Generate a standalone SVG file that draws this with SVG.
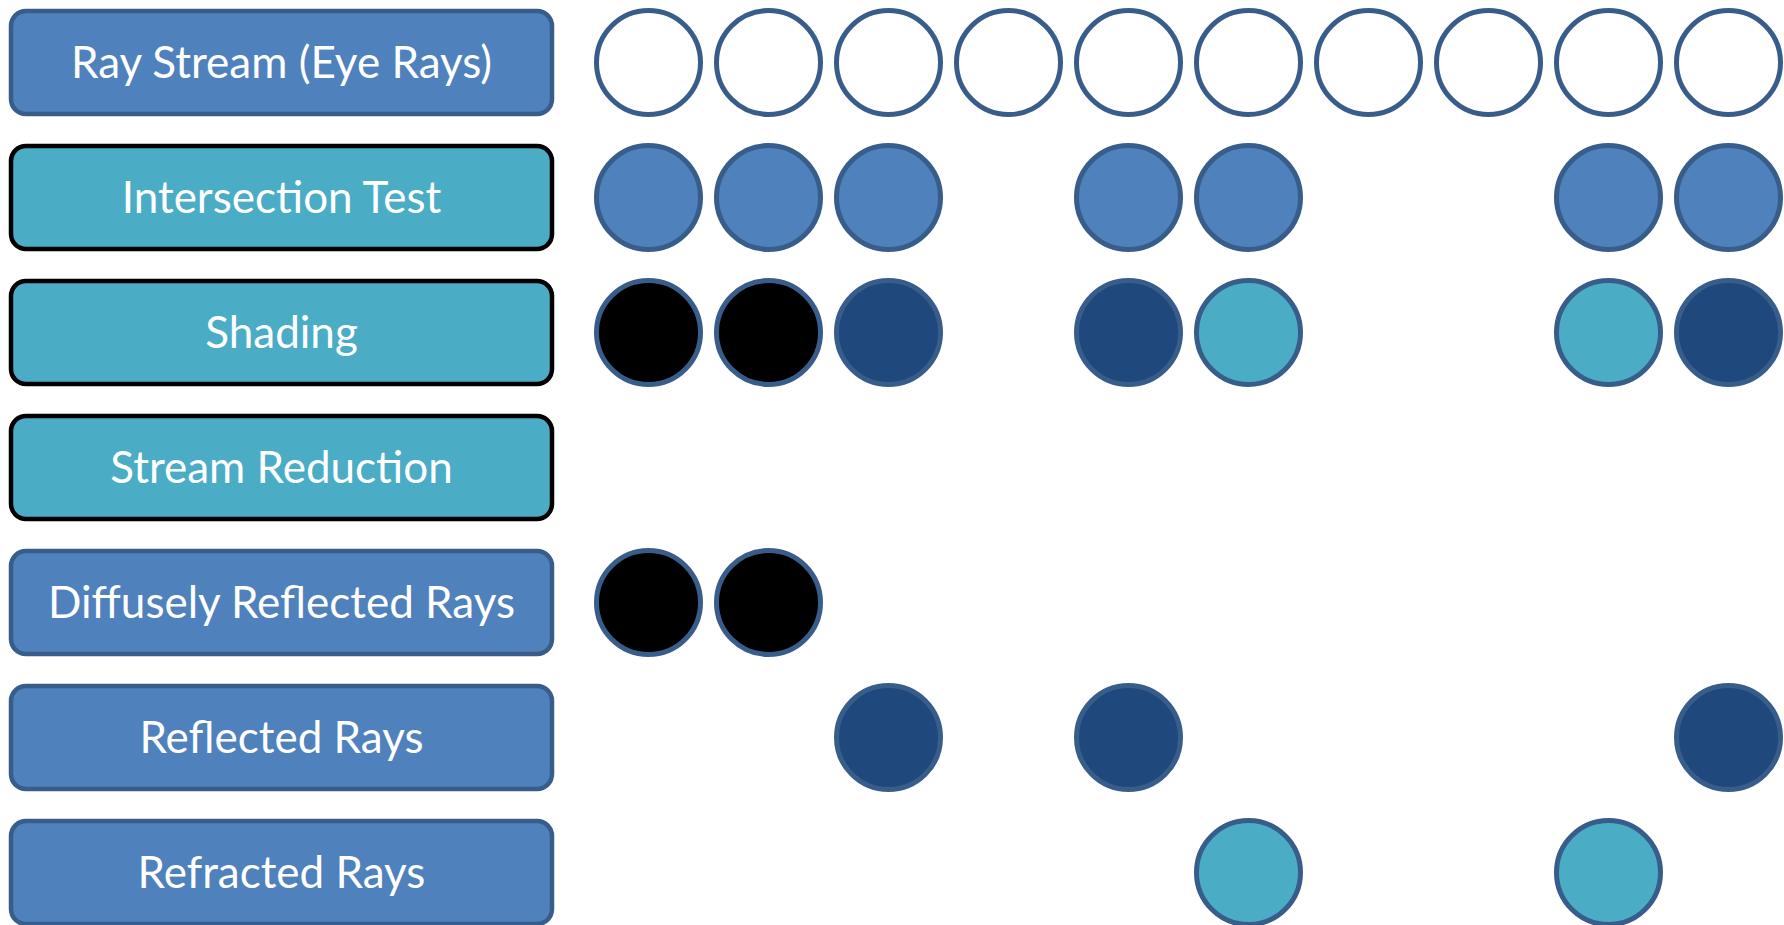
<svg xmlns="http://www.w3.org/2000/svg" width="1784" height="925" viewBox="0 0 1784 925">
<style>
.box{stroke-width:4.5}
.stage{fill:#4F81BD;stroke:#385D8A}
.op{fill:#4BACC6;stroke:#000000}
.lbl{font-family:Lato,"Open Sans","Liberation Sans",sans-serif;font-size:44px;fill:#FFFFFF;text-anchor:middle;dominant-baseline:central}
.c{stroke:#385D8A;stroke-width:5}
.w{fill:#FFFFFF}
.b{fill:#4F81BD}
.k{fill:#000000}
.d{fill:#1F497D}
.t{fill:#4BACC6}
</style>
<rect width="1784" height="925" fill="#FFFFFF"/>
<g id="labels">
<g id="ray-stream"><rect class="box stage" x="11" y="11" width="541" height="103" rx="15"/><text class="lbl" x="281.5" y="60.5">Ray Stream (Eye Rays)</text></g>
<g id="intersection-test"><rect class="box op" x="11" y="146" width="541" height="103" rx="15"/><text class="lbl" x="281.5" y="195.5">Intersection Test</text></g>
<g id="shading"><rect class="box op" x="11" y="281" width="541" height="103" rx="15"/><text class="lbl" x="281.5" y="330.5">Shading</text></g>
<g id="stream-reduction"><rect class="box op" x="11" y="416" width="541" height="103" rx="15"/><text class="lbl" x="281.5" y="465.5">Stream Reduction</text></g>
<g id="diffusely-reflected"><rect class="box stage" x="11" y="551" width="541" height="103" rx="15"/><text class="lbl" x="281.5" y="600.5">Diffusely Reflected Rays</text></g>
<g id="reflected"><rect class="box stage" x="11" y="686" width="541" height="103" rx="15"/><text class="lbl" x="281.5" y="735.5">Reflected Rays</text></g>
<g id="refracted"><rect class="box stage" x="11" y="821" width="541" height="103" rx="15"/><text class="lbl" x="281.5" y="870.5">Refracted Rays</text></g>
</g>
<g id="row-eye-rays">
<circle class="c w" cx="648.5" cy="62.5" r="52"/><circle class="c w" cx="768.5" cy="62.5" r="52"/><circle class="c w" cx="888.5" cy="62.5" r="52"/><circle class="c w" cx="1008.5" cy="62.5" r="52"/><circle class="c w" cx="1128.5" cy="62.5" r="52"/><circle class="c w" cx="1248.5" cy="62.5" r="52"/><circle class="c w" cx="1368.5" cy="62.5" r="52"/><circle class="c w" cx="1488.5" cy="62.5" r="52"/><circle class="c w" cx="1608.5" cy="62.5" r="52"/><circle class="c w" cx="1728.5" cy="62.5" r="52"/>
</g>
<g id="row-intersection">
<circle class="c b" cx="648.5" cy="197.5" r="52"/><circle class="c b" cx="768.5" cy="197.5" r="52"/><circle class="c b" cx="888.5" cy="197.5" r="52"/><circle class="c b" cx="1128.5" cy="197.5" r="52"/><circle class="c b" cx="1248.5" cy="197.5" r="52"/><circle class="c b" cx="1608.5" cy="197.5" r="52"/><circle class="c b" cx="1728.5" cy="197.5" r="52"/>
</g>
<g id="row-shading">
<circle class="c k" cx="648.5" cy="332.5" r="52"/><circle class="c k" cx="768.5" cy="332.5" r="52"/><circle class="c d" cx="888.5" cy="332.5" r="52"/><circle class="c d" cx="1128.5" cy="332.5" r="52"/><circle class="c t" cx="1248.5" cy="332.5" r="52"/><circle class="c t" cx="1608.5" cy="332.5" r="52"/><circle class="c d" cx="1728.5" cy="332.5" r="52"/>
</g>
<g id="row-diffuse">
<circle class="c k" cx="648.5" cy="602.5" r="52"/><circle class="c k" cx="768.5" cy="602.5" r="52"/>
</g>
<g id="row-reflected">
<circle class="c d" cx="888.5" cy="737.5" r="52"/><circle class="c d" cx="1128.5" cy="737.5" r="52"/><circle class="c d" cx="1728.5" cy="737.5" r="52"/>
</g>
<g id="row-refracted">
<circle class="c t" cx="1248.5" cy="872.5" r="52"/><circle class="c t" cx="1608.5" cy="872.5" r="52"/>
</g>
<g id="connectors"/>
</svg>
